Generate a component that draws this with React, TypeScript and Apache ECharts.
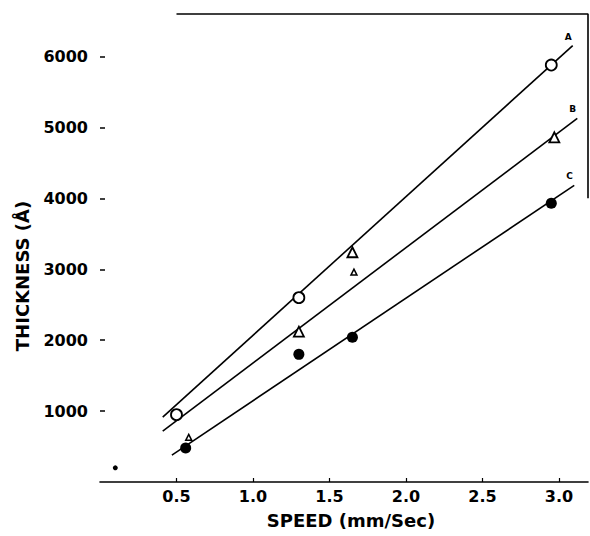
import React, { useEffect, useRef } from "react";
import * as echarts from "echarts";

// Axis ranges and ticks
const xMin = 0;
const xMax = 3.19;
const xInterval = 0.5;
const yMin = 0;
const yMax = 6600;
const yInterval = 1000;
const yTicks = [1000, 2000, 3000, 4000, 5000, 6000];
const xTicks = [0.5, 1.0, 1.5, 2.0, 2.5, 3.0];

// Marker data (speed mm/s, thickness Å)
const openCircles = [
  [0.5, 950],
  [1.3, 2600],
  [2.95, 5880],
];
const openTriangles = [
  [1.3, 2120],
  [1.65, 3240],
  [2.97, 4860],
];
const smallTriangles = [
  [0.58, 630],
  [1.66, 2960],
];
const filledCircles = [
  [0.56, 480],
  [1.3, 1800],
  [1.65, 2040],
  [2.95, 3930],
];
const strayDots = [[0.1, 200]];

// Fitted lines (end points)
const lineA = [
  [0.41, 915],
  [3.09, 6155],
];
const lineB = [
  [0.41, 718],
  [3.12, 5127],
];
const lineC = [
  [0.47, 380],
  [3.1, 4183],
];
const lineNames = ["A", "B", "C"];

// Frame pieces (top and right borders)
const frame = [
  [0.5, yMax],
  [xMax, yMax],
  [xMax, 4000],
];

const FONT = "DejaVu Sans";

export default function App() {
  const ref = useRef<HTMLDivElement>(null);

  useEffect(() => {
    if (!ref.current) return;
    const chart = echarts.init(ref.current, null, { renderer: "svg" });

    const lineSeries = [lineA, lineB, lineC].map((d, i) => ({
      type: "line",
      name: lineNames[i],
      data: d,
      showSymbol: false,
      symbol: "none",
      lineStyle: { color: "#000", width: 1.6 },
      z: 2,
      endLabel: {
        show: true,
        formatter: lineNames[i],
        color: "#000",
        fontSize: 9,
        fontFamily: FONT,
        fontWeight: "bold",
        offset: [-16, -9],
      },
    }));

    const markerStyle = (fill: string) => ({
      color: fill,
      borderColor: "#000",
      borderWidth: fill === "#000" ? 0 : 1.8,
      opacity: 1,
    });

    chart.setOption({
      animation: false,
      backgroundColor: "#fff",
      grid: { left: 100, right: 2, top: 14, bottom: 54, containLabel: false },
      xAxis: {
        type: "value",
        min: xMin,
        max: xMax,
        interval: xInterval,
        axisLine: { show: true, lineStyle: { color: "#000", width: 1.6 } },
        axisTick: {
          show: true,
          inside: true,
          length: 4,
          customValues: xTicks,
          lineStyle: { color: "#000", width: 1.2 },
        },
        splitLine: { show: false },
        axisLabel: {
          color: "#000",
          fontSize: 16,
          fontWeight: "bold",
          fontFamily: FONT,
          margin: 6,
          customValues: xTicks,
          formatter: (v: number) => v.toFixed(1),
        },
        name: "SPEED (mm/Sec)",
        nameLocation: "middle",
        nameGap: 29,
        nameTextStyle: { color: "#000", fontSize: 18, fontWeight: "bold", fontFamily: FONT, padding: [0, 0, 0, 14] },
      },
      yAxis: {
        type: "value",
        min: yMin,
        max: yMax,
        interval: yInterval,
        axisLine: { show: false },
        axisTick: {
          show: true,
          inside: true,
          length: 5,
          customValues: yTicks,
          lineStyle: { color: "#000", width: 1.5 },
        },
        splitLine: { show: false },
        axisLabel: {
          color: "#000",
          fontSize: 16,
          fontWeight: "bold",
          fontFamily: FONT,
          margin: 12,
          customValues: yTicks,
          formatter: (v: number) => String(v),
        },
      },
      graphic: [
        {
          type: "text",
          x: 22,
          y: 276,
          rotation: Math.PI / 2,
          style: {
            text: "THICKNESS (Å)",
            fill: "#000",
            fontSize: 18,
            fontWeight: "bold",
            fontFamily: FONT,
            align: "center",
            verticalAlign: "middle",
          },
        },
      ],
      series: [
        ...lineSeries,
        {
          type: "line",
          data: frame,
          silent: true,
          clip: false,
          showSymbol: false,
          symbol: "none",
          lineStyle: { color: "#000", width: 1.6 },
          z: 1,
        },
        {
          type: "scatter",
          data: openCircles,
          symbol: "circle",
          symbolSize: 11,
          itemStyle: markerStyle("#fff"),
          z: 5,
        },
        {
          type: "scatter",
          data: openTriangles,
          symbol: "triangle",
          symbolSize: 10,
          itemStyle: markerStyle("#fff"),
          z: 5,
        },
        {
          type: "scatter",
          data: smallTriangles,
          symbol: "triangle",
          symbolSize: 6,
          itemStyle: { ...markerStyle("#fff"), borderWidth: 1.5 },
          z: 5,
        },
        {
          type: "scatter",
          data: filledCircles,
          symbol: "circle",
          symbolSize: 11,
          itemStyle: markerStyle("#000"),
          z: 5,
        },
        {
          type: "scatter",
          data: strayDots,
          symbol: "circle",
          symbolSize: 5,
          itemStyle: markerStyle("#000"),
          z: 5,
        },
      ],
    });

    return () => chart.dispose();
  }, []);

  return (
    <div
      ref={ref}
      style={{ position: "fixed", left: 0, top: 0, width: 590, height: 536 }}
    />
  );
}
